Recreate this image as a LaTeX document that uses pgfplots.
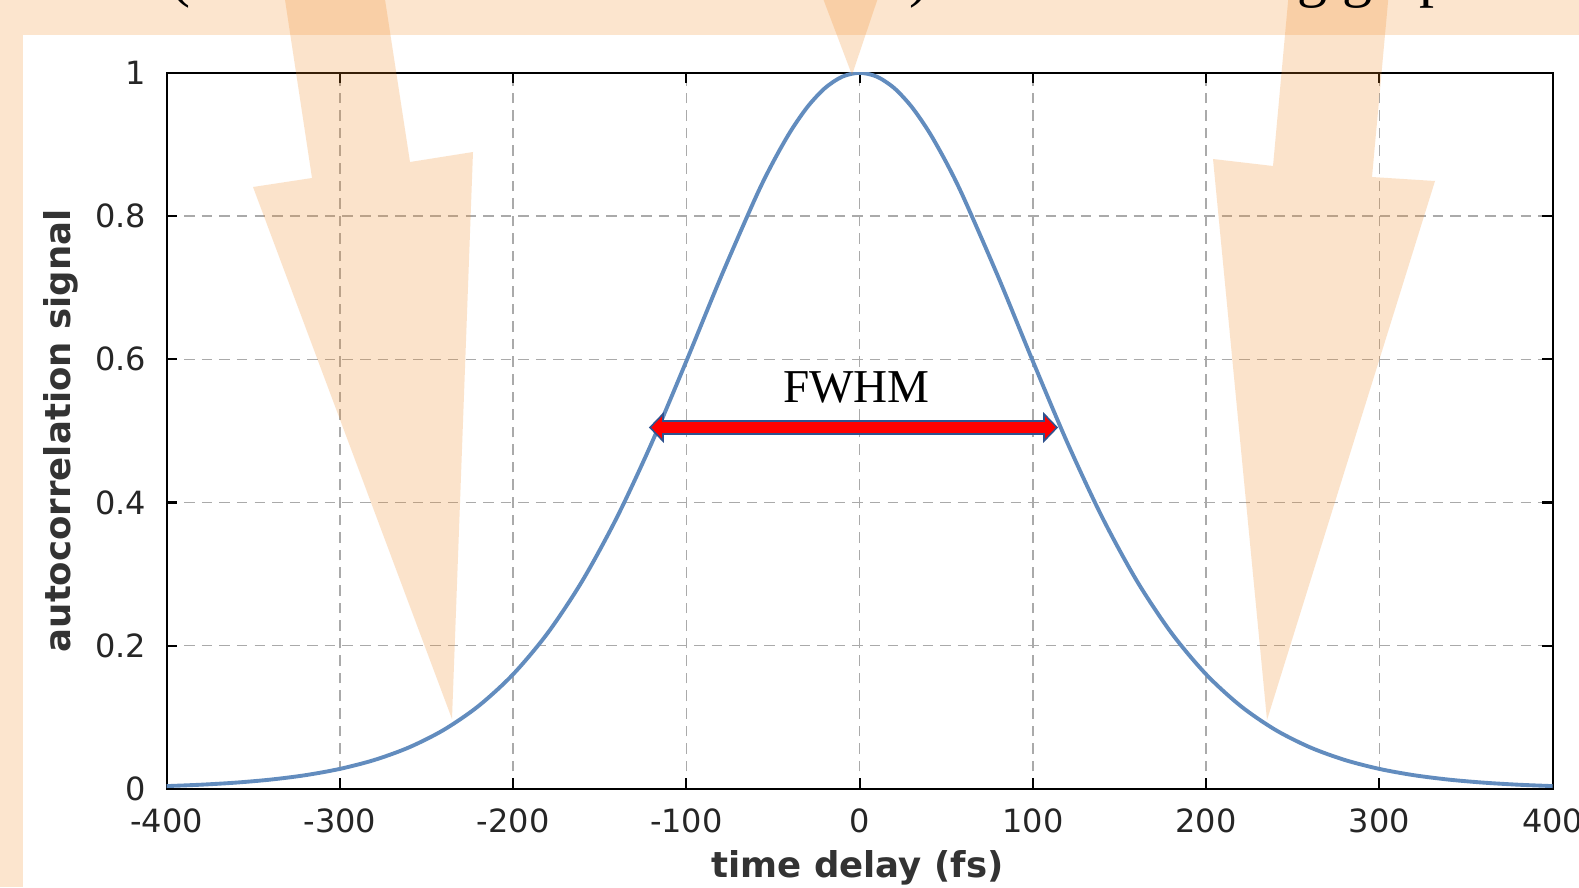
\documentclass[border=0pt]{standalone}
\usepackage{pgfplots}
\pgfplotsset{compat=1.18}
\usepackage{fontspec}
\setmainfont{DejaVu Sans}
\newfontfamily\timesfont{Liberation Serif}
\definecolor{peach}{RGB}{252,229,206}
\definecolor{arrorange}{RGB}{242,138,34}
\definecolor{curveblue}{RGB}{98,140,190}
\definecolor{gridgray}{RGB}{170,170,170}
\definecolor{rimblue}{RGB}{47,82,143}

% sech^2 intensity autocorrelation
\pgfplotstableread{
t     a
-400  0.00400
-380  0.00596
-360  0.00885
-340  0.01307
-320  0.01919
-300  0.02800
-280  0.04052
-260  0.05813
-240  0.08252
-220  0.11576
-200  0.16010
-180  0.21782
-160  0.29073
-140  0.37955
-120  0.48309
-100  0.59735
-80   0.71510
-60   0.82596
-50   0.87502
-40   0.91775
-30   0.95269
-20   0.97866
-10   0.99462
0     1.00000
10    0.99462
20    0.97866
30    0.95269
40    0.91775
50    0.87502
60    0.82596
80    0.71510
100   0.59735
120   0.48309
140   0.37955
160   0.29073
180   0.21782
200   0.16010
220   0.11576
240   0.08252
260   0.05813
280   0.04052
300   0.02800
320   0.01919
340   0.01307
360   0.00885
380   0.00596
400   0.00400
}\actrace

\begin{document}
\begin{tikzpicture}[x=0.01cm,y=0.01cm]
\useasboundingbox (0,0) rectangle (1579,887);
\clip (0,0) rectangle (1579,887);
\fill[peach] (0,0) rectangle (1579,887);
\fill[white] (23,0) rectangle (1579,852);

\begin{axis}[
  at={(1.665cm,0.98cm)}, anchor=south west,
  scale only axis, width=13.852cm, height=7.157cm,
  xmin=-400, xmax=400, ymin=0, ymax=1,
  xtick={-400,-300,-200,-100,0,100,200,300,400},
  ytick={0,0.2,0.4,0.6,0.8,1},
  tick pos=both, tick align=inside,
  major tick length=3pt,
  every tick/.style={black, line width=0.6pt},
  axis line style={black, line width=0.6pt},
  grid=major,
  major grid style={gridgray, line width=0.4pt, dash pattern=on 3pt off 2pt},
  /pgf/number format/assume math mode=true,
  ticklabel style={font=\fontsize{9.1}{10}\selectfont, text=black!85},
  yticklabel style={xshift=-2.3pt},
  xticklabel style={yshift=-2pt},
  xlabel={time delay (fs)},
  ylabel={autocorrelation signal},
  label style={font=\bfseries\fontsize{10.1}{12}\selectfont, text=black!80},
  xlabel style={at={(axis description cs:0.4985,-0.110)}, anchor=center},
  ylabel style={at={(axis description cs:-0.0766,0.5)}, anchor=center},
]
  \addplot[curveblue, line width=1.1pt, smooth] table[x=t, y=a] {\actrace};
\end{axis}

% pointer arrows of the slide
\fill[arrorange, fill opacity=0.23]
  (282,907) -- (312,709) -- (253,700) -- (452,168) -- (473,735) -- (410,725) -- (382,907) -- cycle;
\fill[arrorange, fill opacity=0.23]
  (1290,907) -- (1273,721) -- (1213,728) -- (1267,167) -- (1435,706) -- (1372,710) -- (1390,907) -- cycle;
\fill[arrorange, fill opacity=0.23]
  (816,907) -- (852,812) -- (884,907) -- cycle;

% FWHM double arrow
\filldraw[fill=red, draw=rimblue, line width=0.45pt, line join=miter]
  (650,459.5) -- (663,473) -- (663,466) -- (1044,466) -- (1044,473) -- (1057,459.5)
  -- (1044,446) -- (1044,453) -- (663,453) -- (663,446) -- cycle;
\node[font=\timesfont\fontsize{13.4}{15}\selectfont, anchor=base] at (856.5,485) {FWHM};

% slide text cut by the top edge
\node[font=\timesfont\fontsize{17.07}{20}\selectfont, anchor=base west, inner sep=0pt]
  at (170,891) {(FWHM of the autocorrelation) in the following graph};
\end{tikzpicture}
\end{document}
